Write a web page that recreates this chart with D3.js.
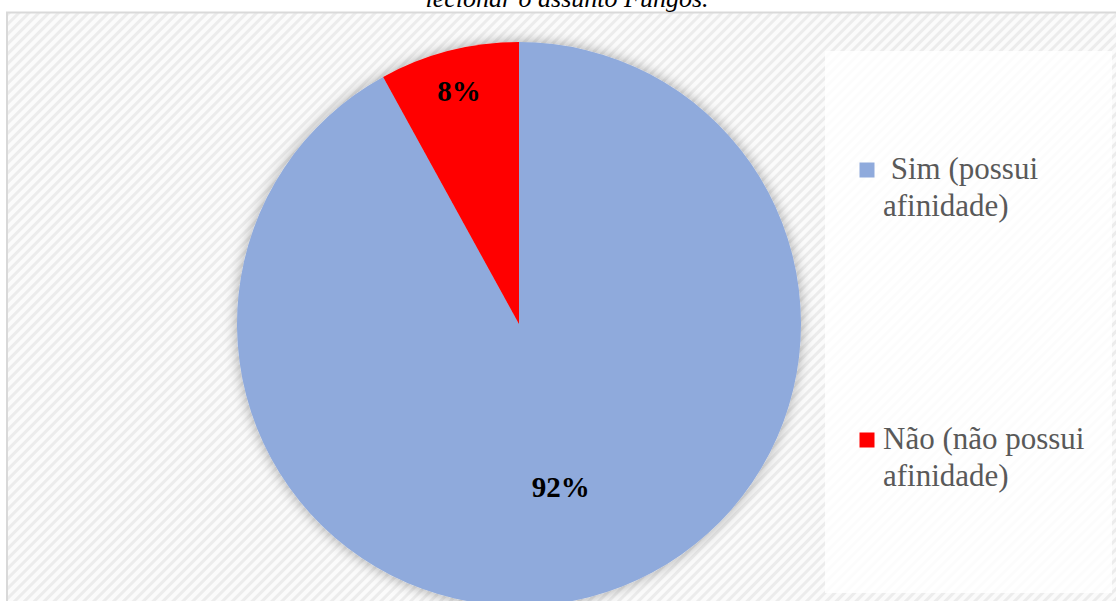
<!DOCTYPE html>
<html>
<head>
<meta charset="utf-8">
<script src="https://cdn.jsdelivr.net/npm/d3@7"></script>
<style>
  html, body { margin: 0; padding: 0; background: #ffffff; }
  svg { display: block; }
</style>
</head>
<body>
<svg id="chart" width="1116" height="601"></svg>
<script>
// Answers to the survey question
const categories = ["Sim (possui afinidade)", "Não (não possui afinidade)"];
const legendLines = [["\u00a0Sim (possui", "afinidade)"], ["Não (não possui", "afinidade)"]];
const values = [92, 8];
const valueLabels = ["92%", "8%"];
const colors = ["#8faadc", "#ff0000"];
const titleLine = "lecionar o assunto Fungos.";

const svg = d3.select("#chart");
const W = 1116, H = 601;
const serif = "'Liberation Serif', 'Times New Roman', serif";

const defs = svg.append("defs");

// Diagonal-stripe chart area fill
const pat = defs.append("pattern")
  .attr("id", "stripes")
  .attr("patternUnits", "userSpaceOnUse")
  .attr("width", 7).attr("height", 7)
  .attr("patternTransform", "rotate(45)");
pat.append("rect").attr("width", 7).attr("height", 7).attr("fill", "#fbfbfb");
pat.append("rect").attr("width", 3).attr("height", 7).attr("fill", "#ececec");

// Soft shadow around the pie
const f = defs.append("filter").attr("id", "pieShadow")
  .attr("x", "-20%").attr("y", "-20%").attr("width", "140%").attr("height", "140%");
f.append("feDropShadow")
  .attr("dx", 0).attr("dy", 0).attr("stdDeviation", 7)
  .attr("flood-color", "#000").attr("flood-opacity", 0.35);

// Chart frame
svg.append("rect")
  .attr("x", 7).attr("y", 12.5)
  .attr("width", W + 20).attr("height", H)
  .attr("fill", "url(#stripes)")
  .attr("stroke", "#d9d9d9").attr("stroke-width", 2);

// Title (last line of the caption above the chart)
svg.append("text")
  .attr("x", 567).attr("y", 7)
  .attr("text-anchor", "middle")
  .attr("font-family", serif)
  .attr("font-style", "italic")
  .attr("font-size", 26)
  .attr("fill", "#000")
  .text(titleLine);

// Legend panel
svg.append("rect")
  .attr("x", 825).attr("y", 51)
  .attr("width", 287).attr("height", 542)
  .attr("fill", "#ffffff").attr("fill-opacity", 0.85);

// Pie
const cx = 519, cy = 324, R = 282;
const pie = d3.pie().sort(null).value(d => d);
const arcs = pie(values);
const arc = d3.arc().innerRadius(0).outerRadius(R);

const g = svg.append("g").attr("transform", `translate(${cx},${cy})`);
g.append("g").attr("filter", "url(#pieShadow)")
  .selectAll("path")
  .data(arcs)
  .join("path")
  .attr("d", arc)
  .attr("fill", (d, i) => colors[i]);

// Value labels (best-fit style placement inside each slice)
const labelRadius = [0.595, 0.855];
g.selectAll("text.val")
  .data(arcs)
  .join("text")
  .attr("class", "val")
  .attr("transform", (d, i) => {
    const a = d3.arc().innerRadius(R * labelRadius[i]).outerRadius(R * labelRadius[i]);
    const [x, y] = a.centroid(d);
    return `translate(${x},${y})`;
  })
  .attr("text-anchor", "middle")
  .attr("dy", "0.35em")
  .attr("font-family", serif)
  .attr("font-weight", "bold")
  .attr("font-size", 29)
  .attr("fill", "#000")
  .text((d, i) => valueLabels[i]);

// Legend entries
const legendY = [179, 449];
const lg = svg.append("g");
categories.forEach((c, i) => {
  const item = lg.append("g").attr("class", "legend-item");
  item.append("rect")
    .attr("x", 859.5).attr("y", legendY[i] - 16.5)
    .attr("width", 15).attr("height", 15)
    .attr("fill", colors[i]);
  const t = item.append("text")
    .attr("font-family", serif)
    .attr("font-size", 31)
    .attr("fill", "#595959");
  legendLines[i].forEach((line, j) => {
    t.append("tspan")
      .attr("x", 883)
      .attr("y", legendY[i] + j * 36.5)
      .text(line);
  });
});
</script>
</body>
</html>
